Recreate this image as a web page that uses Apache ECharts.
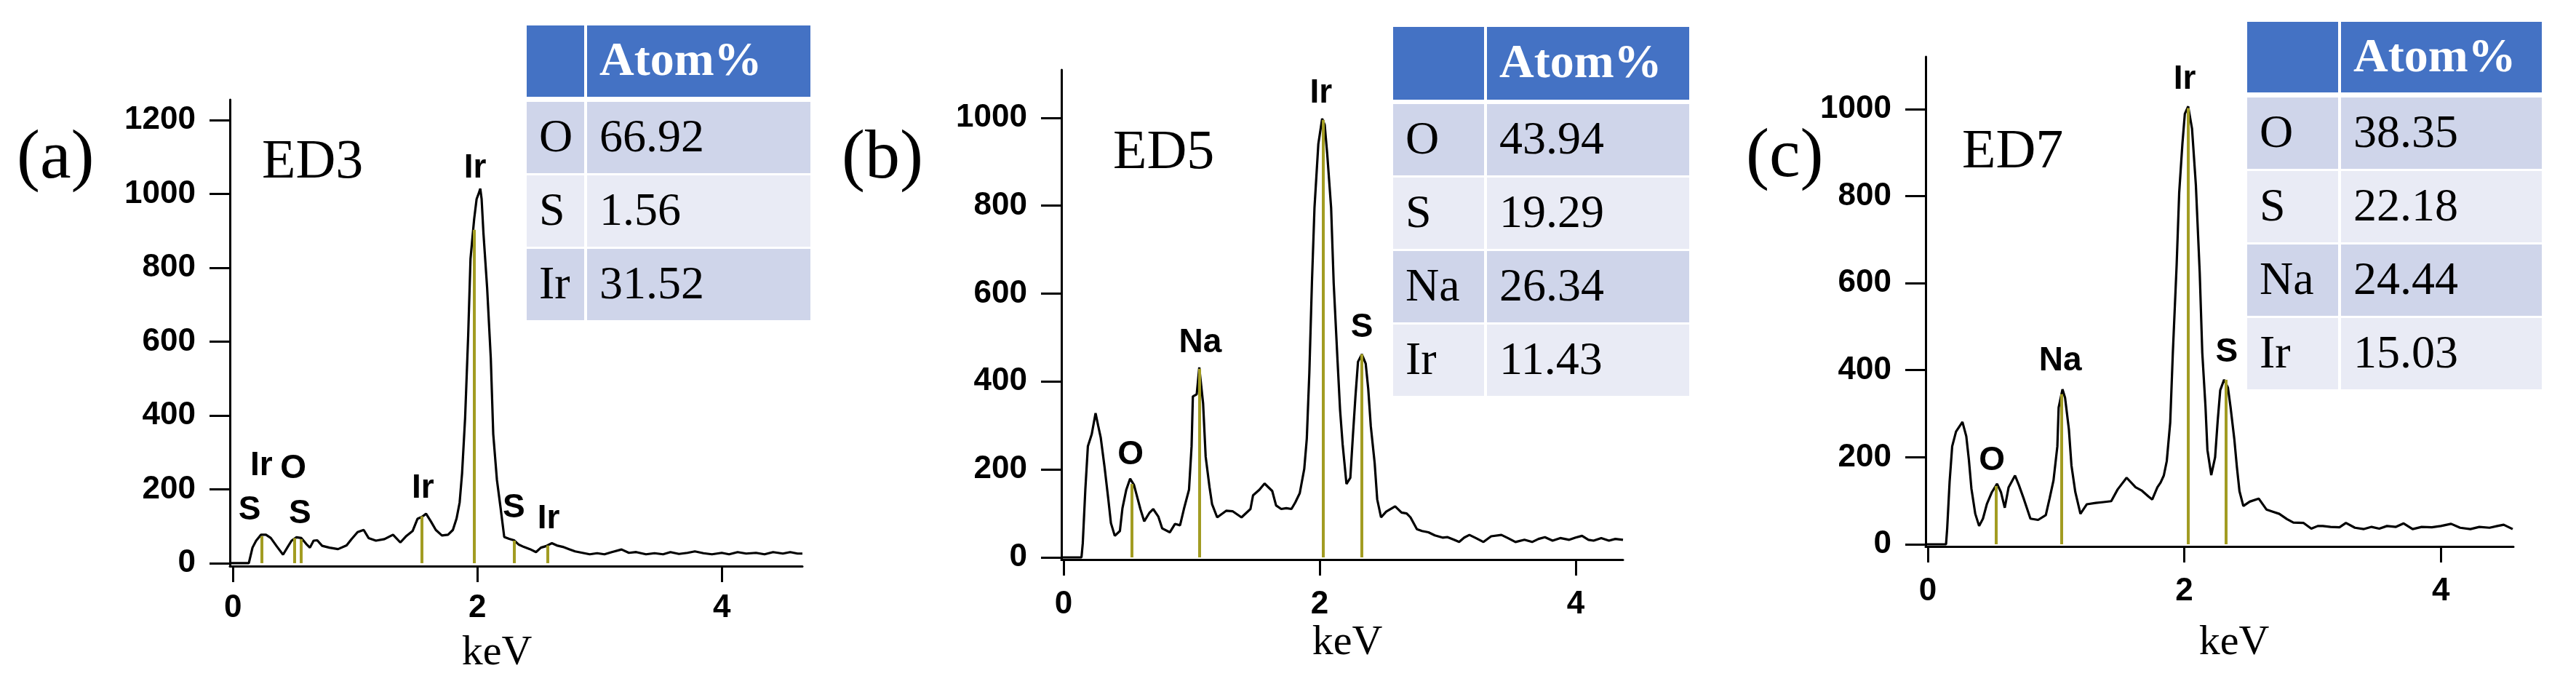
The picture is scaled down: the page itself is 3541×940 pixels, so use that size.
<!DOCTYPE html>
<html>
<head>
<meta charset="utf-8">
<script src="https://cdn.jsdelivr.net/npm/echarts@6/dist/echarts.min.js"></script>
<style>
html,body{margin:0;padding:0;background:#fff;}
#chart{width:3541px;height:940px;}
</style>
</head>
<body>
<div id="chart"></div>
<script>
// ---------- DATA ----------
// Panel (a) ED3 spectrum: energy (keV) and counts
const aE = [-0.02,0.13,0.16,0.19,0.23,0.27,0.31,0.36,0.41,0.45,0.48,0.52,0.56,0.60,0.63,0.66,0.69,0.73,0.79,0.86,0.93,0.97,1.02,1.07,1.11,1.17,1.24,1.31,1.37,1.42,1.47,1.51,1.55,1.58,1.62,1.66,1.71,1.76,1.80,1.83,1.855,1.875,1.90,1.925,1.944,1.974,1.994,2.01,2.024,2.035,2.05,2.08,2.11,2.13,2.16,2.19,2.22,2.26,2.30,2.34,2.38,2.43,2.48,2.52,2.56,2.61,2.65,2.70,2.75,2.80,2.86,2.92,2.98,3.04,3.10,3.18,3.24,3.30,3.38,3.45,3.52,3.58,3.65,3.72,3.78,3.85,3.92,4.00,4.06,4.13,4.20,4.28,4.35,4.42,4.50,4.56,4.62,4.66];
const aC = [0,0,42,61,77,77,68,45,23,45,61,70,68,52,42,61,62,47,42,38,48,65,84,90,68,61,65,77,56,74,87,120,126,134,113,90,75,77,90,121,164,243,394,616,824,932,986,1000,1014,986,893,746,555,350,226,150,71,66,62,50,44,38,30,42,46,54,48,44,38,32,28,24,27,24,30,37,28,30,24,27,24,30,25,28,32,27,24,28,24,30,26,28,24,30,26,30,26,26];
// Panel (b) ED5 spectrum
const bE = [-0.017,0.14,0.15,0.17,0.19,0.22,0.25,0.27,0.29,0.32,0.35,0.37,0.40,0.44,0.46,0.49,0.52,0.55,0.57,0.60,0.63,0.67,0.70,0.74,0.77,0.83,0.87,0.91,0.94,0.98,1.00,1.01,1.04,1.06,1.09,1.11,1.14,1.16,1.20,1.27,1.32,1.39,1.46,1.48,1.53,1.57,1.63,1.66,1.70,1.74,1.78,1.81,1.845,1.88,1.90,1.92,1.94,1.96,1.99,2.02,2.04,2.06,2.09,2.11,2.14,2.16,2.18,2.21,2.24,2.26,2.28,2.30,2.33,2.36,2.38,2.40,2.43,2.45,2.48,2.52,2.59,2.64,2.68,2.71,2.76,2.80,2.85,2.90,2.96,3.00,3.05,3.09,3.13,3.17,3.22,3.28,3.34,3.42,3.47,3.53,3.60,3.66,3.71,3.76,3.82,3.88,3.95,4.00,4.05,4.10,4.14,4.20,4.26,4.31,4.37];
const bC = [0,0,32,154,253,280,328,300,273,206,131,78,49,60,112,154,179,165,143,110,82,101,110,93,66,57,76,73,110,154,253,366,371,432,350,229,160,121,91,106,105,91,110,141,154,168,151,118,110,112,110,125,146,201,270,421,624,795,940,998,984,916,795,624,448,335,257,167,181,276,366,445,462,441,383,298,215,132,91,104,116,102,100,91,64,60,57,50,45,46,40,35,45,51,44,35,48,51,44,35,40,35,42,46,38,44,40,45,49,40,38,44,38,42,40];
// Panel (c) ED7 spectrum
const cE = [-0.017,0.142,0.151,0.17,0.19,0.22,0.27,0.30,0.32,0.34,0.37,0.40,0.43,0.46,0.50,0.54,0.57,0.60,0.63,0.68,0.71,0.75,0.80,0.86,0.92,0.95,0.98,1.01,1.02,1.05,1.07,1.10,1.12,1.15,1.19,1.24,1.31,1.37,1.43,1.48,1.55,1.62,1.67,1.72,1.75,1.79,1.815,1.84,1.863,1.89,1.91,1.94,1.96,1.985,2.004,2.03,2.06,2.09,2.12,2.14,2.165,2.18,2.21,2.24,2.26,2.28,2.31,2.34,2.36,2.39,2.41,2.43,2.46,2.51,2.58,2.64,2.69,2.74,2.80,2.85,2.93,2.99,3.04,3.08,3.14,3.21,3.26,3.33,3.40,3.46,3.52,3.58,3.65,3.71,3.78,3.85,3.93,4.00,4.08,4.15,4.23,4.30,4.38,4.44,4.49,4.56];
const cC = [0,0,36,144,225,259,281,248,195,128,70,42,59,92,120,139,120,84,131,158,136,103,59,56,67,106,147,225,314,356,337,264,181,120,70,92,95,97,99,126,153,131,123,110,103,131,142,158,191,280,437,641,808,920,989,1006,955,825,624,440,316,217,159,200,283,354,378,360,316,241,177,122,88,98,105,80,75,70,58,50,49,36,42,42,40,39,49,38,35,40,36,42,40,48,35,40,39,42,47,38,35,40,38,42,45,35];

// Element marker lines: [energy, height]
const aLines = [[0.233,73],[0.502,68],[0.556,65],[1.544,127],[1.974,903],[2.30,61],[2.576,48]];
const bLines = [[0.532,167],[1.063,429],[2.028,995],[2.328,462]];
const cLines = [[0.529,134],[1.04,345],[2.032,1002],[2.326,378]];

// Peak labels: [text, energy, count]
const aPeakLabels = [['S',0.137,143],['Ir',0.233,263],['O',0.494,255],['S',0.548,133],['Ir',1.554,202],['Ir',1.982,1069],['S',2.298,149],['Ir',2.583,119]];
const bPeakLabels = [['O',0.523,233],['Na',1.068,488],['Ir',2.011,1055],['S',2.33,523]];
const cPeakLabels = [['O',0.50,192],['Na',1.033,421],['Ir',2.003,1067],['S',2.33,440]];

// Tick values
const xTicks = [0,2,4];
const yTicksA = [0,200,400,600,800,1000,1200];
const yTicksBC = [0,200,400,600,800,1000];

// Tables
const tableHeader = 'Atom%';
const tableA = [['O','66.92'],['S','1.56'],['Ir','31.52']];
const tableB = [['O','43.94'],['S','19.29'],['Na','26.34'],['Ir','11.43']];
const tableC = [['O','38.35'],['S','22.18'],['Na','24.44'],['Ir','15.03']];

// Panel titles
const panelTags = ['(a)','(b)','(c)'];
const sampleNames = ['ED3','ED5','ED7'];
const xName = 'keV';

// ---------- LAYOUT / STYLE ----------
const SERIF = "'Liberation Serif','Times New Roman',serif";
const SANS = "'Liberation Sans',Arial,sans-serif";
const markerColor = '#A29C22';

const panels = [
  {E:aE,C:aC,lines:aLines,labels:aPeakLabels,yTicks:yTicksA,
   grid:{left:316,top:137,width:787,height:641}, xr:[-0.025,4.66], yr:[-8,1255], xMargin:36},
  {E:bE,C:bC,lines:bLines,labels:bPeakLabels,yTicks:yTicksBC,
   grid:{left:1459,top:96,width:772,height:673}, xr:[-0.017,4.37], yr:[-5,1109], xMargin:40},
  {E:cE,C:cC,lines:cLines,labels:cPeakLabels,yTicks:yTicksBC,
   grid:{left:2647,top:78,width:808,height:673}, xr:[-0.017,4.566], yr:[-5,1120], xMargin:40}
];

const grids=[], xAxes=[], yAxes=[], series=[];
panels.forEach((p,i)=>{
  grids.push(Object.assign({containLabel:false}, p.grid));
  xAxes.push({
    gridIndex:i, type:'value', min:p.xr[0], max:p.xr[1],
    axisLine:{show:true,onZero:false,lineStyle:{color:'#000',width:3}},
    axisTick:{show:true,length:22,lineStyle:{color:'#000',width:3},customValues:xTicks},
    axisLabel:{show:true,customValues:xTicks,margin:p.xMargin,color:'#000',
      fontFamily:SANS,fontWeight:'bold',fontSize:44,formatter:v=>String(Math.round(v))},
    splitLine:{show:false}
  });
  yAxes.push({
    gridIndex:i, type:'value', min:p.yr[0], max:p.yr[1],
    axisLine:{show:true,onZero:false,lineStyle:{color:'#000',width:3}},
    axisTick:{show:true,length:28,lineStyle:{color:'#000',width:3},customValues:p.yTicks},
    axisLabel:{show:true,customValues:p.yTicks,margin:47,color:'#000',
      fontFamily:SANS,fontWeight:'bold',fontSize:44,formatter:v=>String(Math.round(v))},
    splitLine:{show:false}
  });
  series.push({
    type:'line', xAxisIndex:i, yAxisIndex:i, showSymbol:false, silent:true,
    data:p.E.map((e,k)=>[e,p.C[k]]),
    lineStyle:{color:'#000',width:3.2}, z:2,
    markLine:{silent:true,symbol:['none','none'],animation:false,
      label:{show:false},
      lineStyle:{color:markerColor,width:4,type:'solid'},
      emphasis:{disabled:true},
      data:p.lines.map(l=>[{coord:[l[0],0]},{coord:[l[0],l[1]]}])}
  });
});

// graphic: tags, names, keV, tables
const graphic = [];
const tagPos = [[23,219],[1157,219],[2400,217]];
const namePos = [[360,224],[1530,211],[2697,210]];
const kevPos = [[683,898],[1852,884],[3071,884]];
for(let i=0;i<3;i++){
  graphic.push({type:'text',silent:true,style:{text:panelTags[i],x:tagPos[i][0],y:tagPos[i][1],
    font:'96px '+SERIF,fill:'#000',textAlign:'left',textVerticalAlign:'middle'}});
  graphic.push({type:'text',silent:true,style:{text:sampleNames[i],x:namePos[i][0],y:namePos[i][1],
    font:'76px '+SERIF,fill:'#000',textAlign:'left',textVerticalAlign:'middle'}});
  graphic.push({type:'text',silent:true,style:{text:xName,x:kevPos[i][0],y:kevPos[i][1],
    font:'58px '+SERIF,fill:'#000',textAlign:'center',textVerticalAlign:'middle'}});
}
function addTable(rows, g){
  const headCol='#4472C4', dark='#CFD5EA', light='#E9EBF5';
  graphic.push({type:'rect',silent:true,shape:{x:g.left,y:g.top,width:g.split-2-g.left,height:g.headH},style:{fill:headCol}});
  graphic.push({type:'rect',silent:true,shape:{x:g.split+2,y:g.top,width:g.right-g.split-2,height:g.headH},style:{fill:headCol}});
  graphic.push({type:'text',silent:true,style:{text:tableHeader,x:g.split+19,y:g.top+g.headH/2+2,
    font:'bold 66px '+SERIF,fill:'#fff',textAlign:'left',textVerticalAlign:'middle'}});
  rows.forEach((r,k)=>{
    const y=g.top+g.headH+g.headGap+k*(g.rowH+g.gap);
    const col = k%2===0?dark:light;
    graphic.push({type:'rect',silent:true,shape:{x:g.left,y:y,width:g.split-2-g.left,height:g.rowH},style:{fill:col}});
    graphic.push({type:'rect',silent:true,shape:{x:g.split+2,y:y,width:g.right-g.split-2,height:g.rowH},style:{fill:col}});
    graphic.push({type:'text',silent:true,style:{text:r[0],x:g.left+17,y:y+g.rowH/2+2,
      font:'64px '+SERIF,fill:'#000',textAlign:'left',textVerticalAlign:'middle'}});
    graphic.push({type:'text',silent:true,style:{text:r[1],x:g.split+19,y:y+g.rowH/2+2,
      font:'64px '+SERIF,fill:'#000',textAlign:'left',textVerticalAlign:'middle'}});
  });
}
addTable(tableA,{left:724,right:1114,split:805,top:35,headH:98,headGap:7,rowH:98,gap:3});
addTable(tableB,{left:1915,right:2322,split:2042,top:37,headH:100,headGap:6,rowH:98,gap:3});
addTable(tableC,{left:3089,right:3494,split:3216,top:30,headH:97,headGap:7,rowH:98,gap:3});

const chart = echarts.init(document.getElementById('chart'),null,{renderer:'canvas'});
chart.setOption({
  backgroundColor:'#fff',
  animation:false,
  grid:grids, xAxis:xAxes, yAxis:yAxes, series:series,
  graphic:graphic
});

// Peak labels placed through the axes' own scales
const labelGraphics = [];
panels.forEach((p,i)=>{
  p.labels.forEach(l=>{
    const pt = chart.convertToPixel({gridIndex:i}, [l[1], l[2]]);
    labelGraphics.push({type:'text',silent:true,z:10,style:{text:l[0],x:pt[0],y:pt[1],
      font:'bold 46px '+SANS,fill:'#000',textAlign:'center',textVerticalAlign:'middle'}});
  });
});
chart.setOption({graphic:graphic.concat(labelGraphics)});
</script>
</body>
</html>
